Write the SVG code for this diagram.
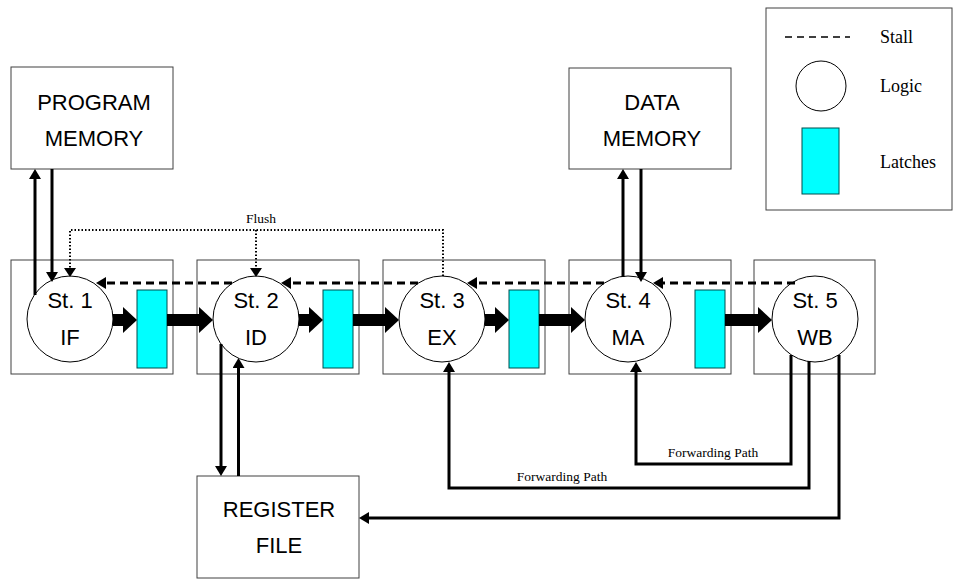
<svg xmlns="http://www.w3.org/2000/svg" width="956" height="579" viewBox="0 0 956 579">
<style>
.box{fill:#fff;stroke:#404040;stroke-width:1}
.logic{fill:#fff;stroke:#000;stroke-width:1}
.latch{fill:#00ffff;stroke:#004d4d;stroke-width:1}
.big{font-family:"Liberation Sans",Arial,sans-serif;font-size:22px;fill:#000;text-anchor:middle}
.lbl{font-family:"Liberation Serif","Times New Roman",serif;fill:#000}
.leg{font-size:18px}
.small{font-size:13.5px;text-anchor:middle}
.thick{stroke:#000;stroke-width:12;fill:none}
.thin{stroke:#000;stroke-width:3;fill:none}
.stall{stroke:#000;stroke-width:3;stroke-dasharray:8 5;fill:none}
.flush{stroke:#000;stroke-width:2;stroke-dasharray:1.5 2;fill:none}
</style>
<defs>
<marker id="bigHead" markerUnits="userSpaceOnUse" viewBox="0 0 14 26" markerWidth="14" markerHeight="26" refX="0" refY="13" orient="auto">
<path d="M0,0 L14,13 L0,26 Z" fill="#000"/>
</marker>
<marker id="head" markerUnits="userSpaceOnUse" viewBox="0 0 10 12" markerWidth="10" markerHeight="12" refX="0" refY="6" orient="auto">
<path d="M0,0 L10,6 L0,12 Z" fill="#000"/>
</marker>
<marker id="dotHead" markerUnits="userSpaceOnUse" viewBox="0 0 9 12" markerWidth="9" markerHeight="12" refX="0" refY="6" orient="auto">
<path d="M0,0 L9,6 L0,12 Z" fill="#000"/>
</marker>
</defs>

<g id="legend">
<rect class="box" x="766" y="8" width="186" height="202"/>
<line x1="785" y1="37" x2="850" y2="37" stroke="#000" stroke-width="1.3" stroke-dasharray="7 5"/>
<text class="lbl leg" x="880" y="43">Stall</text>
<circle class="logic" cx="821" cy="86" r="25"/>
<text class="lbl leg" x="880" y="92">Logic</text>
<rect class="latch" x="802" y="128" width="37" height="66"/>
<text class="lbl leg" x="880" y="168">Latches</text>
</g>

<g id="program-memory">
<rect class="box" x="11" y="67" width="162" height="102"/>
<text class="big" x="94" y="110" font-size="23">PROGRAM</text>
<text class="big" x="94" y="146" font-size="23">MEMORY</text>
</g>

<g id="data-memory">
<rect class="box" x="569" y="68" width="162" height="101"/>
<text class="big" x="652" y="110" font-size="23">DATA</text>
<text class="big" x="652" y="146" font-size="23">MEMORY</text>
</g>

<g id="register-file">
<rect class="box" x="197" y="476" width="162" height="102"/>
<text class="big" x="279" y="517" font-size="23">REGISTER</text>
<text class="big" x="279" y="553" font-size="23">FILE</text>
</g>

<g id="stage1">
<rect class="box" x="11" y="260" width="162" height="114"/>
<circle class="logic" cx="70" cy="319" r="43"/>
<text class="big" x="70" y="308">St. 1</text>
<text class="big" x="70" y="345">IF</text>
<rect class="latch" x="137" y="290" width="30" height="78"/>
</g>

<g id="stage2">
<rect class="box" x="197" y="260" width="162" height="114"/>
<circle class="logic" cx="256" cy="319" r="43"/>
<text class="big" x="256" y="308">St. 2</text>
<text class="big" x="256" y="345">ID</text>
<rect class="latch" x="323" y="290" width="30" height="78"/>
</g>

<g id="stage3">
<rect class="box" x="383" y="260" width="162" height="114"/>
<circle class="logic" cx="442" cy="319" r="43"/>
<text class="big" x="442" y="308">St. 3</text>
<text class="big" x="442" y="345">EX</text>
<rect class="latch" x="509" y="290" width="30" height="78"/>
</g>

<g id="stage4">
<rect class="box" x="569" y="260" width="162" height="114"/>
<circle class="logic" cx="628" cy="319" r="43"/>
<text class="big" x="628" y="308">St. 4</text>
<text class="big" x="628" y="345">MA</text>
<rect class="latch" x="695" y="290" width="30" height="78"/>
</g>

<g id="stage5">
<rect class="box" x="754" y="260" width="121" height="114"/>
<circle class="logic" cx="815" cy="319" r="43"/>
<text class="big" x="815" y="308">St. 5</text>
<text class="big" x="815" y="345">WB</text>
</g>

<g id="connectors">
<!-- pipeline data flow -->
<line class="thick" x1="113" y1="320" x2="123" y2="320" marker-end="url(#bigHead)"/>
<line class="thick" x1="167" y1="320" x2="199" y2="320" marker-end="url(#bigHead)"/>
<line class="thick" x1="299" y1="320" x2="309" y2="320" marker-end="url(#bigHead)"/>
<line class="thick" x1="353" y1="320" x2="385" y2="320" marker-end="url(#bigHead)"/>
<line class="thick" x1="485" y1="320" x2="495" y2="320" marker-end="url(#bigHead)"/>
<line class="thick" x1="539" y1="320" x2="571" y2="320" marker-end="url(#bigHead)"/>
<line class="thick" x1="725" y1="320" x2="758" y2="320" marker-end="url(#bigHead)"/>

<!-- program memory -->
<line class="thin" x1="35" y1="295" x2="35" y2="179" marker-end="url(#head)"/>
<line class="thin" x1="52" y1="169" x2="52" y2="272" marker-end="url(#head)"/>

<!-- data memory -->
<line class="thin" x1="623" y1="277" x2="623" y2="179" marker-end="url(#head)"/>
<line class="thin" x1="641" y1="169" x2="641" y2="272" marker-end="url(#head)"/>

<!-- register file -->
<line class="thin" x1="221" y1="344" x2="221" y2="466" marker-end="url(#head)"/>
<line class="thin" x1="238.5" y1="476" x2="238.5" y2="368" marker-end="url(#head)"/>

<!-- forwarding paths and write back -->
<polyline class="thin" points="791,355 791,464 636,464 636,372" marker-end="url(#head)"/>
<text class="lbl small" x="713" y="457">Forwarding Path</text>
<polyline class="thin" points="809,361 809,488 449,488 449,372" marker-end="url(#head)"/>
<text class="lbl small" x="562" y="481">Forwarding Path</text>
<polyline class="thin" points="839,355 839,518 369,518" marker-end="url(#head)"/>

<!-- stall -->
<line class="stall" x1="795" y1="283" x2="663" y2="283" marker-end="url(#head)"/>
<line class="stall" x1="604" y1="283" x2="477" y2="283" marker-end="url(#head)"/>
<line class="stall" x1="418" y1="283" x2="291" y2="283" marker-end="url(#head)"/>
<line class="stall" x1="232" y1="283" x2="106" y2="283" marker-end="url(#head)"/>

<!-- flush -->
<polyline class="flush" points="443,276 443,230 70,230 70,268" marker-end="url(#dotHead)"/>
<line class="flush" x1="256" y1="230" x2="256" y2="268" marker-end="url(#dotHead)"/>
<text class="lbl small" x="261" y="223">Flush</text>
</g>
</svg>
